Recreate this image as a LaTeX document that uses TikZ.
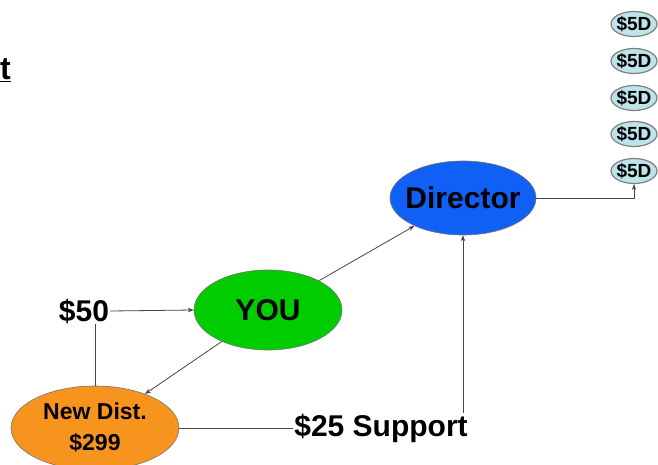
\documentclass[tikz,border=0pt]{standalone}
\usepackage{fontspec}
\setmainfont{Liberation Sans}
\usetikzlibrary{arrows.meta,shapes.geometric}
\definecolor{dirblue}{RGB}{16,96,245}
\definecolor{yougreen}{RGB}{0,204,0}
\definecolor{ndorange}{RGB}{247,148,29}
\definecolor{fivecyan}{RGB}{190,228,235}
\definecolor{linegray}{RGB}{70,70,70}
\begin{document}
\begin{tikzpicture}[x=1pt,y=-1pt,
  oval/.style={ellipse, draw=black!55, line width=0.6pt, inner sep=0pt, font=\bfseries},
  fived/.style={ellipse, draw=black!50, line width=1.2pt, fill=fivecyan, minimum width=46pt, minimum height=25pt, inner xsep=-8pt, inner ysep=-4pt, font=\fontsize{19}{20}\selectfont\bfseries},
  lbl/.style={inner sep=1pt, font=\fontsize{30}{32}\selectfont\bfseries},
  conn/.style={draw=linegray, line width=0.8pt},
  arr/.style={conn, -{Stealth[length=6pt,width=4.5pt]}}
]
\useasboundingbox (0,0) rectangle (658,465);
\fill[white] (0,0) rectangle (658,465);

\node[anchor=base west, inner sep=0pt, font=\fontsize{32}{34}\selectfont\bfseries] (tt) at (0,80) {\underline{t}};

\node[oval, fill=dirblue, minimum width=146pt, minimum height=74pt, inner xsep=-12pt, font=\fontsize{30}{32}\selectfont\bfseries] (dir) at (463,198) {Director};
\node[oval, fill=yougreen, minimum width=148pt, minimum height=80pt, font=\fontsize{30}{32}\selectfont\bfseries] (you) at (268,310) {YOU};
\node[oval, fill=ndorange, minimum width=168pt, minimum height=84pt, align=center, font=\fontsize{23}{31}\selectfont\bfseries] (nd) at (95,428) {New Dist.\\\$299};

\node[fived] (d1) at (634,24) {\$5D};
\node[fived] (d2) at (634,61) {\$5D};
\node[fived] (d3) at (634,98) {\$5D};
\node[fived] (d4) at (634,134) {\$5D};
\node[fived] (d5) at (634,171) {\$5D};

\node[lbl] (s50) at (84,311) {\$50};
\node[lbl] (sup) at (381,428) {\$25 Support};

\draw[arr] (s50.east) -- (you.west);
\draw[conn] (nd.north) -- (nd.north |- s50.south);
\draw[arr] (you) -- (nd);
\draw[arr] (you) -- (dir);
\draw[conn] (nd.east) -- (sup.west);
\draw[arr] (sup.north -| dir.south) -- (dir.south);
\draw[arr] (dir.east) -| (d5.south);
\end{tikzpicture}
\end{document}
